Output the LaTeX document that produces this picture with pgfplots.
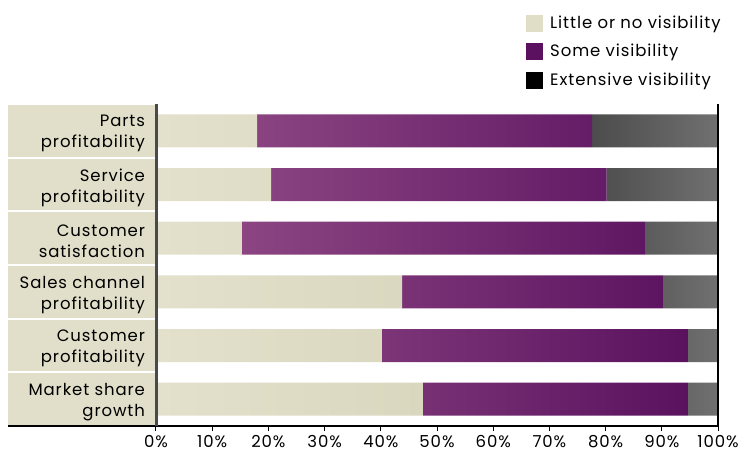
\documentclass[border=0pt]{standalone}
\usepackage{pgfplots}
\pgfplotsset{compat=1.18}
\usepackage{fontspec}
\setmainfont{Poppins}[LetterSpace=5.5]
\definecolor{cellbg}{HTML}{E1DFC9}
\definecolor{beigeL}{HTML}{E3E1CC}
\definecolor{beigeR}{HTML}{D9D7BE}
\definecolor{purpL}{HTML}{8C4582}
\definecolor{purpR}{HTML}{5A125F}
\definecolor{greyL}{HTML}{4C4C4C}
\definecolor{greyR}{HTML}{707070}
\definecolor{legbeige}{HTML}{E0DEC7}
\definecolor{legpurp}{HTML}{5B1060}
\definecolor{leftline}{HTML}{4A4A4A}
\pgfplotstableread{
cat little some ext
0 18.0 59.6 22.4
1 20.5 59.7 19.8
2 15.3 71.7 13.0
3 43.8 46.4 9.8
4 40.2 54.5 5.3
5 47.5 47.2 5.3
}\datatable
\begin{document}
\begin{tikzpicture}
% label panel cells (behind the axis)
\foreach \i in {0,...,5}{
  \fill[cellbg] (-148pt,{322pt-\i*53.667pt-1pt}) rectangle (0pt,{322pt-(\i+1)*53.667pt+1pt});
}
\begin{axis}[
  at={(0pt,0pt)}, anchor=south west,
  scale only axis, width=562pt, height=322pt,
  xbar stacked, bar width=33pt,
  xmin=0, xmax=100, ymin=-0.5, ymax=5.5, y dir=reverse,
  clip=false,
  axis line style={draw=none},
  ytick={0,...,5},
  yticklabels={{Parts\\profitability},{Service\\profitability},{Customer\\satisfaction},{Sales channel\\profitability},{Customer\\profitability},{Market share\\growth}},
  yticklabel style={align=right, font=\fontsize{16.5}{21}\selectfont, xshift=-2.5pt, yshift=-3pt},
  y tick style={draw=none},
  xtick={0,10,...,100},
  xticklabel={\pgfmathprintnumber{\tick}\%},
  /pgf/number format/assume math mode=true,
  xticklabel style={font=\fontsize{16.5}{18}\selectfont, inner sep=0pt, yshift=-4pt},
  xtick pos=lower, tick align=outside, major tick length=5pt,
  x tick style={black, line width=1pt},
  legend style={at={(rel axis cs:0.658,1.283)}, anchor=north west, draw=none, fill=none,
    font=\fontsize{16.5}{18}\selectfont, row sep=8.5pt, legend cell align=left,
    inner sep=0pt, outer sep=0pt, nodes={inner sep=3pt},
    /tikz/every odd column/.append style={column sep=5pt}},
]
\addlegendimage{legend image code/.code={\fill[legbeige] (0pt,-8pt) rectangle (16pt,8pt);}}
\addlegendentry{Little or no visibility}
\addlegendimage{legend image code/.code={\fill[legpurp] (0pt,-8pt) rectangle (16pt,8pt);}}
\addlegendentry{Some visibility}
\addlegendimage{legend image code/.code={\fill[black] (0pt,-8pt) rectangle (16pt,8pt);}}
\addlegendentry{Extensive visibility}
\addplot[forget plot, draw=none, left color=beigeL, right color=beigeR]
  table[x=little, y=cat] {\datatable};
\addplot[forget plot, draw=none, left color=purpL, right color=purpR]
  table[x=some, y=cat] {\datatable};
\addplot[forget plot, draw=none, left color=greyL, right color=greyR]
  table[x=ext, y=cat] {\datatable};
\end{axis}
\draw[black, line width=1.5pt] (-148pt,0pt) -- (562pt,0pt);
\draw[leftline, line width=3pt] (0pt,0pt) -- (0pt,322pt);
\draw[black, line width=2pt] (562pt,0pt) -- (562pt,322pt);
\pgfresetboundingbox
\path[use as bounding box] (-156pt,-26pt) rectangle (587pt,426pt);
\end{tikzpicture}
\end{document}
